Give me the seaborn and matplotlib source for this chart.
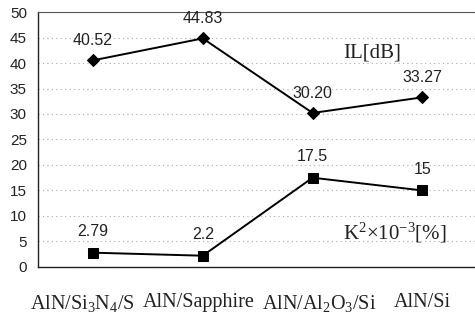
import matplotlib
matplotlib.use("Agg")
import matplotlib.pyplot as plt
import matplotlib.transforms as mtransforms
import seaborn as sns
import pandas as pd

categories = ["AlN/Si$_3$N$_4$/S", "AlN/Sapphire", "AlN/Al$_2$O$_3$/Si", "AlN/Si"]
il_values = [40.52, 44.83, 30.20, 33.27]
il_labels = ["40.52", "44.83", "30.20", "33.27"]
k2_values = [2.79, 2.2, 17.5, 15]
k2_labels = ["2.79", "2.2", "17.5", "15"]
yticks = [0, 5, 10, 15, 20, 25, 30, 35, 40, 45, 50]

sns.set_style("white")
plt.rcParams["font.family"] = ["Liberation Sans", "DejaVu Sans"]
plt.rcParams["mathtext.fontset"] = "custom"
plt.rcParams["mathtext.rm"] = "Liberation Serif"
plt.rcParams["mathtext.it"] = "Liberation Serif:italic"
plt.rcParams["mathtext.bf"] = "Liberation Serif:bold"

fig = plt.figure(figsize=(4.75, 3.17), dpi=100)
ax = fig.add_axes([0.08, 0.158, 0.925, 0.804])

pos = list(range(len(categories)))
df_il = pd.DataFrame({"x": pos, "y": il_values})
df_k2 = pd.DataFrame({"x": pos, "y": k2_values})

sns.lineplot(data=df_il, x="x", y="y", ax=ax, color="black", lw=1.4,
             marker="D", markersize=6.5, markeredgecolor="black")
sns.lineplot(data=df_k2, x="x", y="y", ax=ax, color="black", lw=1.4,
             marker="s", markersize=7.5, markeredgecolor="black")

for x, y, t in zip(pos, il_values, il_labels):
    ax.annotate(t, (x, y), xytext=(0, 14), textcoords="offset points",
                ha="center", va="center", fontsize=11.5, color="#222222")
for x, y, t in zip(pos, k2_values, k2_labels):
    ax.annotate(t, (x, y), xytext=(0, 15), textcoords="offset points",
                ha="center", va="center", fontsize=11.5, color="#222222")

ax.text(0.76, 0.84, "IL[dB]", transform=ax.transAxes, ha="center", va="center",
        fontsize=15, family="Liberation Serif", color="#222222")
ax.text(0.813, 0.133, "K$^{2}$×10$^{-3}$[%]", transform=ax.transAxes, ha="center",
        va="center", fontsize=15, family="Liberation Serif", color="#222222")

ax.set_xlim(-0.5, 3.5)
ax.set_ylim(0, 50)
ax.set_yticks(yticks)
ax.set_xticks(pos)
ax.set_xticklabels(categories, fontsize=14.5, family="Liberation Serif", color="#222222")
ax.tick_params(axis="x", length=0, pad=18.5)
ax.tick_params(axis="y", length=0, pad=8, labelsize=11, labelcolor="#222222")
ax.set_xlabel("")
ax.set_ylabel("")
ax.grid(axis="y", linestyle=(0, (1, 3)), color="#aaaaaa", lw=0.8)

shifts_px = [-11, -4, 7, 0]
for lab, dx in zip(ax.get_xticklabels(), shifts_px):
    lab.set_transform(lab.get_transform() +
                      mtransforms.ScaledTranslation(dx / 100, 0, fig.dpi_scale_trans))

for s in ["left", "bottom"]:
    ax.spines[s].set_color("#222222")
    ax.spines[s].set_linewidth(1.0)
ax.spines["top"].set_color("#555555")
ax.spines["top"].set_linewidth(0.8)
ax.spines["right"].set_visible(False)

fig.savefig("out.png", dpi=100)
